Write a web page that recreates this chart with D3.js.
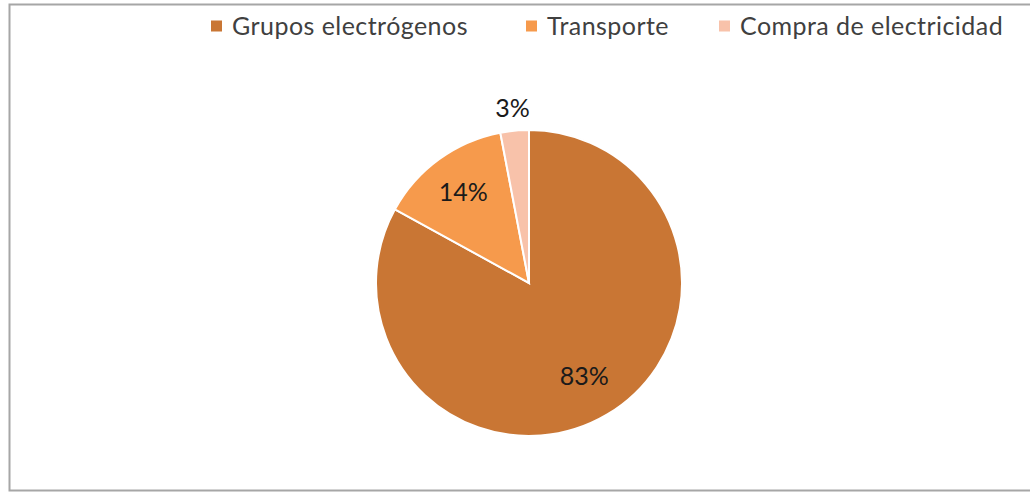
<!DOCTYPE html>
<html lang="es">
<head>
  <meta charset="UTF-8">
  <title>Consumo</title>
  <script src="https://d3js.org/d3.v7.min.js"></script>
  <style>
    body { margin: 0; background: #fff; }
    text { font-family: Lato, "Open Sans", sans-serif; fill: #404040; }
  </style>
</head>
<body>
  <div id="chart"></div>
  <script>
    const categories = ["Grupos electrógenos", "Transporte", "Compra de electricidad"];
    const values = [83, 14, 3];
    const labels = ["83%", "14%", "3%"];
    const colors = ["#C97634", "#F69A4C", "#F8C2AA"];

    const width = 1030, height = 493;
    const svg = d3.select("#chart").append("svg")
      .attr("width", width)
      .attr("height", height);

    // frame (right side runs off the picture)
    svg.append("rect")
      .attr("x", 9.5).attr("y", 4.5)
      .attr("width", 1060).attr("height", 486)
      .attr("fill", "#fff")
      .attr("stroke", "#a6a6a6")
      .attr("stroke-width", 2);

    const cx = 529, cy = 283, r = 153;
    const data = categories.map((c, i) => ({ name: c, value: values[i], label: labels[i], color: colors[i] }));

    const pie = d3.pie().value(d => d.value).sort(null);
    const arc = d3.arc().innerRadius(0).outerRadius(r);
    const arcs = pie(data);

    const g = svg.append("g").attr("transform", `translate(${cx},${cy})`);
    g.selectAll("path")
      .data(arcs)
      .enter().append("path")
      .attr("d", arc)
      .attr("fill", d => d.data.color)
      .attr("stroke", "#fff")
      .attr("stroke-width", 2);

    // label positions: inside for big slices, outside for the small one
    const labelRadius = [0.71, 0.73, 1.15];
    g.selectAll(".lbl")
      .data(arcs)
      .enter().append("text")
      .attr("class", "lbl")
      .attr("transform", (d, i) => {
        const a = (d.startAngle + d.endAngle) / 2;
        const rr = r * labelRadius[i];
        return `translate(${Math.sin(a) * rr},${-Math.cos(a) * rr})`;
      })
      .attr("text-anchor", "middle")
      .attr("dy", "0.35em")
      .style("font-size", "25px")
      .style("fill", "#1a1a1a")
      .text(d => d.data.label);

    // legend
    const legendX = [211, 526, 719];
    const legend = svg.selectAll(".leg")
      .data(data)
      .enter().append("g")
      .attr("class", "leg")
      .attr("transform", (d, i) => `translate(${legendX[i]},26)`);
    legend.append("rect")
      .attr("x", 0).attr("y", -5.5)
      .attr("width", 11).attr("height", 11)
      .attr("fill", d => d.color);
    legend.append("text")
      .attr("x", 21)
      .attr("dy", "0.35em")
      .style("font-size", "25px")
      .style("letter-spacing", "0.45px")
      .text(d => d.name);
  </script>
</body>
</html>
